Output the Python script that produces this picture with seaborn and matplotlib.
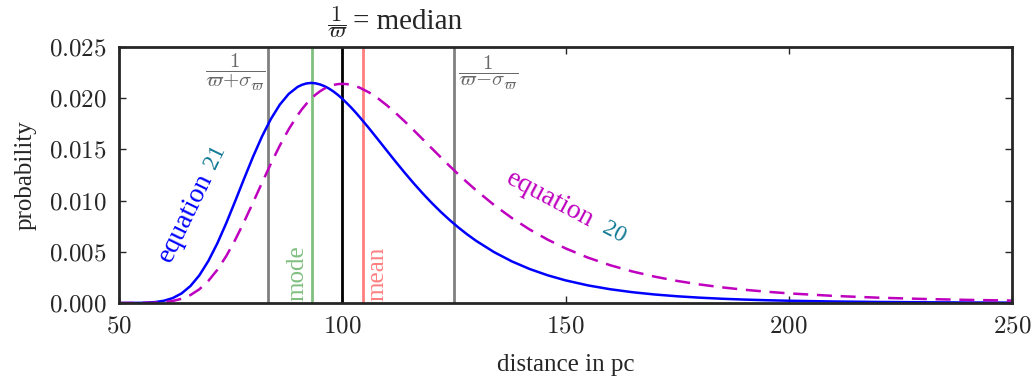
import seaborn as sns
import matplotlib.pyplot as plt
import pandas as pd

# distances in pc
dist = [50, 55, 58, 60, 62, 64, 66, 68, 70, 72, 74, 76, 78, 80, 82, 84, 86, 88, 90,
        91, 92, 93, 94, 95, 96, 97, 98, 99, 100, 101, 102, 103, 104, 106, 108, 110,
        112, 114, 116, 118, 120, 122,
        124, 126, 128, 130, 134, 138, 142, 146, 150, 155, 160, 165, 170, 175, 180,
        185, 190, 195, 200, 210, 220, 230, 240, 250]

# equation 21 (solid blue)
eq21 = [0.0000003, 0.0000153, 0.0000844, 0.0002142, 0.0004742, 0.000933, 0.001660,
        0.002708, 0.004099, 0.005810, 0.007785, 0.009929, 0.012128, 0.014269,
        0.016243, 0.017963, 0.019365, 0.020416, 0.021105, 0.021310, 0.021442,
        0.021490, 0.021454, 0.021345, 0.021179, 0.020945, 0.020662, 0.020330,
        0.019947, 0.019525, 0.019081, 0.018605, 0.018104, 0.017056, 0.015968,
        0.014867, 0.013776, 0.012712, 0.011687, 0.010711, 0.009788, 0.008925,
        0.008122, 0.007379, 0.006694, 0.006066, 0.004968, 0.004060, 0.003314,
        0.002706, 0.002211, 0.001721, 0.001344, 0.001053, 0.000829, 0.000656,
        0.000521, 0.000416, 0.000334, 0.000270, 0.000219, 0.000147, 0.000100,
        0.0000695, 0.0000492, 0.0000355]

# equation 20 (dashed magenta)
eq20 = [0.0000001, 0.0000050, 0.0000305, 0.0000827, 0.0001956, 0.000410, 0.000776,
        0.001343, 0.002155, 0.003231, 0.004573, 0.006152, 0.007917, 0.009798,
        0.011717, 0.013598, 0.015366, 0.016962, 0.018340, 0.018940, 0.019470,
        0.019940, 0.020338, 0.020670, 0.020941, 0.021145, 0.021289, 0.021375,
        0.021400, 0.021375, 0.021297, 0.021175, 0.021008, 0.020560, 0.019981,
        0.019300, 0.018539, 0.017724, 0.016871, 0.016000, 0.015122, 0.014252,
        0.013398, 0.012567, 0.011767, 0.010998, 0.009570, 0.008295, 0.007169,
        0.006188, 0.005336, 0.004435, 0.003690, 0.003076, 0.002571, 0.002155,
        0.001812, 0.001529, 0.001295, 0.001101, 0.000940, 0.000693, 0.000519,
        0.000395, 0.000304, 0.000238]

inv_plus = 83.33   # 1/(w + sigma)
mode = 93.3
median = 100.0
mean = 104.6
inv_minus = 125.0  # 1/(w - sigma)

xticks = [50, 100, 150, 200, 250]
yticks = [0, 0.005, 0.010, 0.015, 0.020, 0.025]
ytick_labels = ['0.000', '0.005', '0.010', '0.015', '0.020', '0.025']

df = pd.DataFrame({'dist': dist, 'eq21': eq21, 'eq20': eq20})

sns.set_style("ticks")
plt.rcParams['font.family'] = ['Liberation Serif', 'DejaVu Serif']
plt.rcParams['mathtext.fontset'] = 'cm'
txt_font = ['Liberation Serif', 'DejaVu Serif']

fig = plt.figure(figsize=(10.36, 3.83), dpi=100)
ax = fig.add_axes([0.1149, 0.2089, 0.8619, 0.6684])

# vertical markers
ax.axvline(inv_plus, color='gray', lw=2)
ax.axvline(inv_minus, color='gray', lw=2)
ax.axvline(mode, color='green', alpha=0.5, lw=2)
ax.axvline(mean, color='red', alpha=0.5, lw=2)
ax.axvline(median, color='black', lw=2)

sns.lineplot(data=df, x='dist', y='eq21', ax=ax, color='blue', lw=1.8)
sns.lineplot(data=df, x='dist', y='eq20', ax=ax, color='m', lw=1.8,
             dashes=False, linestyle=(0, (6, 3.5)))

ax.set_xlim(50, 250)
ax.set_ylim(0, 0.025)
ax.set_xticks(xticks)
ax.set_xticklabels(['$%d$' % t for t in xticks])
ax.set_yticks(yticks)
ax.set_yticklabels(['$%s$' % t for t in ytick_labels])
ax.tick_params(direction='in', top=True, right=True, length=5, width=1,
               labelsize=18, pad=9)
for s in ax.spines.values():
    s.set_linewidth(2)

ax.set_xlabel('distance in pc', family=txt_font, fontsize=18, labelpad=12)
ax.set_ylabel('probability', family=txt_font, fontsize=18, labelpad=9)

# annotations
ax.text(96.5, 0.0274, r'$\dfrac{1}{\varpi}$', ha='left', va='center',
        fontsize=16, clip_on=False)
ax.text(102.3, 0.0274, '= median', ha='left', va='center',
        fontsize=21, family=txt_font, clip_on=False)
ax.text(82.8, 0.0225, r'$\dfrac{1}{\varpi\!+\!\sigma_\varpi}$', ha='right', va='center',
        fontsize=15, color='dimgray')
ax.text(126.0, 0.0225, r'$\dfrac{1}{\varpi\!-\!\sigma_\varpi}$', ha='left', va='center',
        fontsize=15, color='dimgray')
ax.text(92.4, 0.0002, 'mode', rotation=90, ha='right', va='bottom',
        fontsize=18, family=txt_font, color='green', alpha=0.5)
ax.text(105.4, 0.0002, 'mean', rotation=90, ha='left', va='bottom',
        fontsize=18, family=txt_font, color='red', alpha=0.5)

ax.text(64.9, 0.0083, 'equation', rotation=64, ha='center', va='center',
        rotation_mode='anchor', fontsize=20, family=txt_font, color='blue')
ax.text(71.6, 0.0143, '21', rotation=64, ha='center', va='center',
        rotation_mode='anchor', fontsize=17, family=txt_font, color='#127a96')
ax.text(146.5, 0.0101, 'equation', rotation=-28, ha='center', va='center',
        rotation_mode='anchor', fontsize=20, family=txt_font, color='m')
ax.text(160.8, 0.0069, '20', rotation=-28, ha='center', va='center',
        rotation_mode='anchor', fontsize=17, family=txt_font, color='#127a96')

fig.savefig('out.png', dpi=100)
